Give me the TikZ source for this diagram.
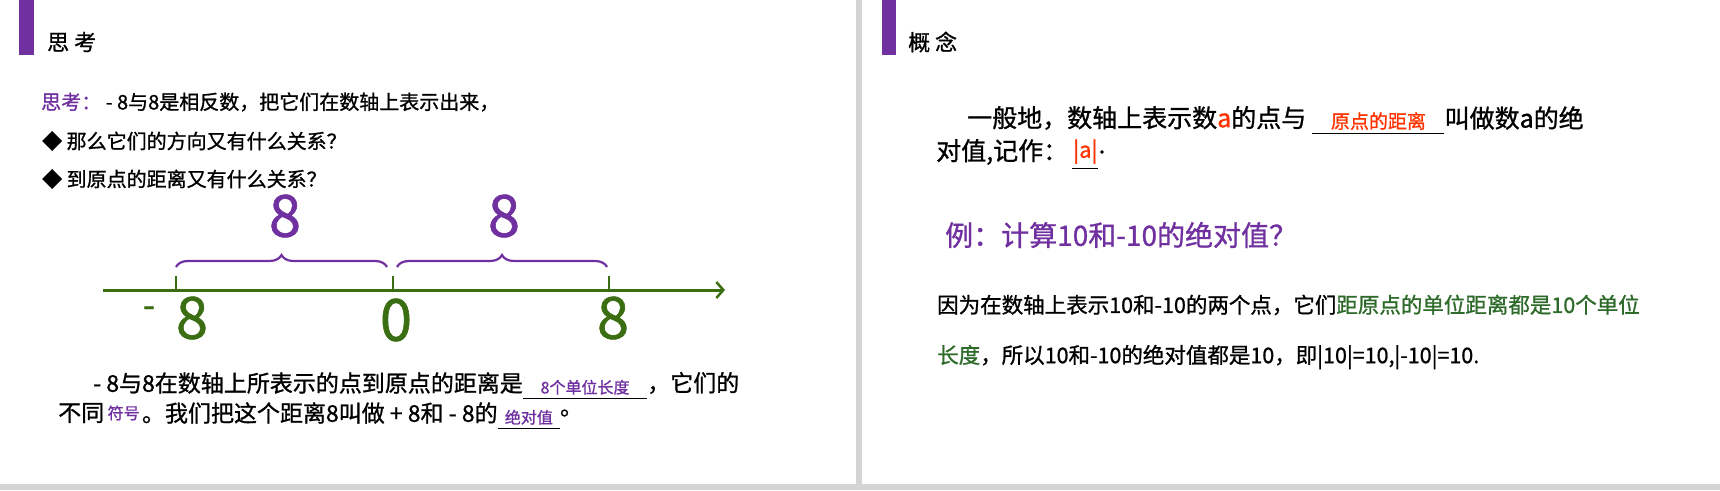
\documentclass[tikz,border=0pt]{standalone}
\usepackage{fontspec}
\setmainfont{Noto Sans CJK SC}[FakeBold=1]
\usetikzlibrary{decorations.pathreplacing,arrows.meta,calc}
\definecolor{pp}{HTML}{7030A0}
\definecolor{ax}{HTML}{3B6E12}
\definecolor{rd}{HTML}{FF3300}
\definecolor{gt}{HTML}{2E6B2A}
\definecolor{gr}{HTML}{D4D4D4}
\newcommand{\fs}[1]{\fontsize{#1}{#1}\selectfont}
\begin{document}
\begin{tikzpicture}[x=1pt,y=1pt,
  txt/.style={anchor=west,inner sep=0pt,font=\fs{20}},
  ul/.style={line width=0.8pt,black},
  big/.style={inner sep=0pt,font=\fs{58}}]
\useasboundingbox (0,0) rectangle (1720,-490);
\fill[white] (0,0) rectangle (1720,-490);
% frame
\fill[gr] (856,0) rectangle (862,-490);
\fill[gr] (0,-484) rectangle (1720,-490);
\fill[pp] (19,0) rectangle (34,-55);
\fill[pp] (882,0) rectangle (896,-55);
\node[txt,font=\fs{22}] (h1) at (47,-42) {思 考};
\node[txt,font=\fs{22}] (h2) at (908,-42) {概 念};
% left text
\node[txt] (l1) at (41,-102) {\textcolor{pp}{思考：}\ - 8与8是相反数，把它们在数轴上表示出来，};
\node[txt] (l2) at (42,-141) {◆ 那么它们的方向又有什么关系？};
\node[txt] (l3) at (42,-179) {◆ 到原点的距离又有什么关系？};
% number line
\coordinate (a0) at (103,-290);
\coordinate (a1) at (725,-290);
\draw[ax,line width=3pt,-{Straight Barb[length=7pt,width=16pt,line width=2.5pt]}] (a0) -- (a1);
\coordinate (tA) at (176,-290); \coordinate (tB) at (393,-290); \coordinate (tC) at (609,-290);
\foreach \t in {tA,tB,tC} \draw[ax,line width=2pt] (\t) -- ++(0,14);
\draw[pp,line width=2.2pt,decorate,decoration={brace,amplitude=12pt}] (176,-267) -- (387,-267);
\draw[pp,line width=2.2pt,decorate,decoration={brace,amplitude=12pt}] (397,-267) -- (607,-267);
\node[big,text=pp] (p1) at (285,-216) {8};
\node[big,text=pp] (p2) at (504,-216) {8};
\node[big,text=ax,font=\fs{34}] (m) at (149,-312) {-};
\node[big,text=ax] (g1) at (192,-318) {8};
\node[big,text=ax] (g2) at (396,-320) {0};
\node[big,text=ax] (g3) at (613,-318) {8};
% bottom left
\node[txt,font=\fs{23}] (b1) at (93,-383) {- 8与8在数轴上所表示的点到原点的距离是};
\draw[ul] (b1.south east) ++(0,-4) coordinate (u1a) -- ++(124,0) coordinate (u1b);
\node[inner sep=0pt,anchor=south,font=\fs{16},text=pp] (b1a) at ($(u1a)!0.5!(u1b)+(0,3)$) {8个单位长度};
\node[txt,font=\fs{23}] (b1b) at (u1b |- b1) {，它们的};
\node[txt,font=\fs{23}] (b2) at (58,-413) {不同};
\node[txt,font=\fs{16},text=pp] (b2a) at ([xshift=3]b2.east) {符号};
\node[txt,font=\fs{23}] (b2b) at ([xshift=2]b2a.east) {。我们把这个距离8叫做 + 8和 - 8的};
\draw[ul] (b2b.south east) ++(0,-4) coordinate (u2a) -- ++(62,0) coordinate (u2b);
\node[inner sep=0pt,anchor=south,font=\fs{16},text=pp] (b2c) at ($(u2a)!0.5!(u2b)+(0,3)$) {绝对值};
\node[txt,font=\fs{23}] (b2d) at (u2b |- b2) {。};
% right
\node[txt,font=\fs{25}] (r1) at (967,-118) {一般地，数轴上表示数\textcolor{rd}{a}的点与};
\draw[ul] (r1.south east) ++(6,-3) coordinate (u3a) -- ++(132,0) coordinate (u3b);
\node[inner sep=0pt,anchor=south,font=\fs{19},text=rd] (r1a) at ($(u3a)!0.5!(u3b)+(0,3)$) {原点的距离};
\node[txt,font=\fs{25}] (r1b) at (u3b |- r1) {叫做数\textit{a}的绝};
\node[txt,font=\fs{25}] (r2) at (936,-152) {对值,记作：};
\draw[ul] (r2.south east) ++(4,-3) coordinate (u4a) -- ++(26,0) coordinate (u4b);
\node[inner sep=0pt,anchor=south,font=\fs{22},text=rd] (r2a) at ($(u4a)!0.5!(u4b)+(0,4)$) {|a|};
\node[txt,font=\fs{25}] (r2b) at (u4b |- r2) {.};
\node[txt,font=\fs{28},text=pp] (ex) at (945,-235) {例：计算10和-10的绝对值？};
\node[txt,font=\fs{21.5}] (r3) at (937,-305) {因为在数轴上表示10和-10的两个点，它们\textcolor{gt}{距原点的单位距离都是10个单位}};
\node[txt,font=\fs{21.5}] (r4) at (937,-357) {\textcolor{gt}{长度}，所以10和-10的绝对值都是10，即|10|=10,|-10|=10.};
\end{tikzpicture}
\end{document}
